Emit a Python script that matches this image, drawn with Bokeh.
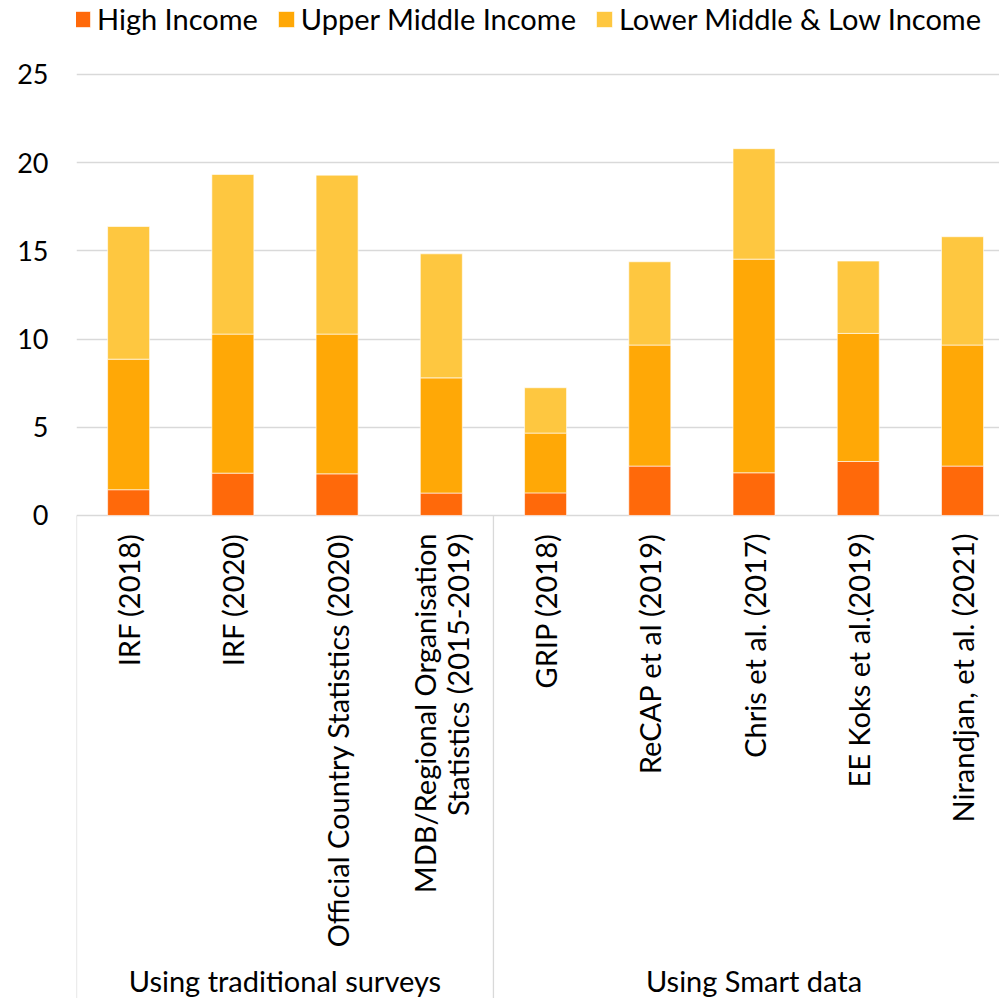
import math
from bokeh.plotting import figure
from bokeh.models import ColumnDataSource, Range1d, FixedTicker, Legend
from bokeh.core.properties import value
from bokeh.embed import file_html
from bokeh.resources import INLINE

categories = ["IRF (2018)", "IRF (2020)", "Official Country Statistics (2020)",
              "MDB/Regional Organisation\nStatistics (2015-2019)",
              "GRIP (2018)", "ReCAP et al (2019)", "Chris et al. (2017)",
              "EE Koks et al.(2019)", "Nirandjan, et al. (2021)"]
groups = ["Using traditional surveys", "Using Smart data"]
group_sizes = [4, 5]
high = [1.46, 2.40, 2.36, 1.27, 1.28, 2.80, 2.42, 3.06, 2.80]
upper = [7.40, 7.88, 7.92, 6.53, 3.39, 6.86, 12.11, 7.26, 6.86]
lower = [7.52, 9.05, 9.01, 7.03, 2.57, 4.72, 6.26, 4.10, 6.14]
series = ["High Income", "Upper Middle Income", "Lower Middle & Low Income"]
colors = ["#FF690A", "#FFA806", "#FEC740"]
y_ticks = [0, 5, 10, 15, 20, 25]

FONT = "Lato"
FS = "29px"
TICK_FS = "27px"

Y_TOP = 29.19
Y_BOT = -27.38

xs = list(range(len(categories)))
src = ColumnDataSource(dict(x=xs, high=high, upper=upper, lower=lower, label=categories))

p = figure(width=999, height=998, output_backend="svg", toolbar_location=None,
           x_range=Range1d(-0.5, 8.355), y_range=Range1d(Y_BOT, Y_TOP),
           x_axis_location=None, min_border_left=76, min_border_right=0,
           min_border_top=0, min_border_bottom=0)
p.outline_line_color = None
p.xgrid.grid_line_color = None
p.ygrid.ticker = FixedTicker(ticks=y_ticks)
p.ygrid.grid_line_color = "#D9D9D9"
p.ygrid.grid_line_width = 1.3

ax = p.yaxis[0]
ax.ticker = FixedTicker(ticks=y_ticks)
ax.axis_line_color = None
ax.major_tick_line_color = None
ax.minor_tick_line_color = None
ax.major_tick_out = 0
ax.major_tick_in = 0
ax.major_label_standoff = 28
ax.major_label_text_font = FONT
ax.major_label_text_font_size = TICK_FS
ax.major_label_text_color = "#000000"

renderers = p.vbar_stack(["high", "upper", "lower"], x="x", width=0.403, source=src,
                         color=colors, line_color="#FFFFFF", line_alpha=0.6, line_width=1)

# separators below axis
bounds = [-0.5]
acc = -0.5
for g in group_sizes:
    acc += g
    bounds.append(acc)
p.segment(x0=bounds, x1=bounds, y0=[0] * len(bounds), y1=[Y_BOT] * len(bounds),
          line_color="#D9D9D9", line_width=1.3)

# category labels
p.text(x="x", y=0, text="label", source=src, angle=math.pi / 2, text_align="right",
       text_baseline="middle", y_offset=18, text_font=value(FONT), text_font_size=FS,
       text_color="#000000", text_line_height=0.95)

# group labels
gx = []
start = 0
for g in group_sizes:
    gx.append(start + (g - 1) / 2)
    start += g
p.text(x=gx, y=[Y_BOT, Y_BOT], text=groups, text_align="center", text_baseline="bottom",
       y_offset=-1, text_font=value(FONT), text_font_size=FS, text_color="#000000")

legend = Legend(items=[(s, [r]) for s, r in zip(series, renderers)],
                orientation="horizontal", location=(-4, 962))
legend.border_line_color = None
legend.background_fill_alpha = 0
legend.padding = 0
legend.margin = 0
legend.glyph_width = 20
legend.glyph_height = 20
legend.label_standoff = 5
legend.spacing = 18
legend.label_text_font = FONT
legend.label_text_font_size = FS
legend.label_text_color = "#000000"
p.add_layout(legend)

open("out.html", "w").write(file_html(p, INLINE))
